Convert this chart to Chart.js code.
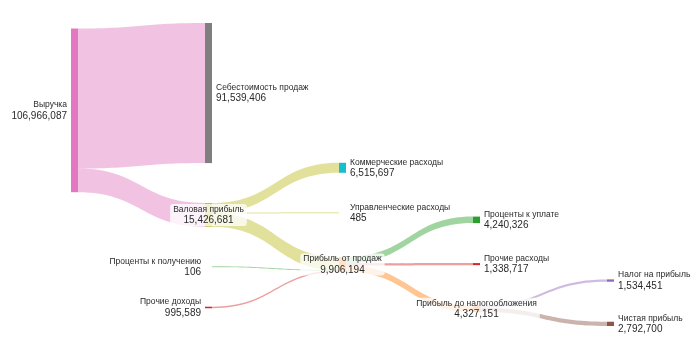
<!DOCTYPE html>
<html>
<head>
<meta charset="utf-8">
<script src="https://cdn.jsdelivr.net/npm/chart.js@4.4.1/dist/chart.umd.min.js"></script>
<style>
  html, body { margin: 0; padding: 0; background: #fff; }
  #wrap { width: 700px; height: 350px; }
</style>
</head>
<body>
<div id="wrap"><canvas id="sankey"></canvas></div>
<script>
// ── Данные: узлы и потоки ─────────────────────────────────
const nodeNames = [
  'Выручка', 'Себестоимость продаж', 'Валовая прибыль',
  'Коммерческие расходы', 'Управленческие расходы', 'Прибыль от продаж',
  'Проценты к получению', 'Прочие доходы',
  'Проценты к уплате', 'Прочие расходы', 'Прибыль до налогообложения',
  'Налог на прибыль', 'Чистая прибыль'
];
const linkFrom   = [0, 0, 2, 2, 2, 6, 7, 5, 5, 5, 10, 10];
const linkTo     = [1, 2, 3, 4, 5, 5, 5, 8, 9, 10, 11, 12];
const linkValues = [91539406, 15426681, 6515697, 485, 8910499, 106, 995589,
                    4240326, 1338717, 4327151, 1534451, 2792700];

// ── Цвета ─────────────────────────────────────────────────
const nodeColors = ['#e377c2', '#7f7f7f', '#bcbd22', '#17becf', '#1f77b4', '#ff7f0e',
                    '#2ca02c', '#d62728', '#2ca02c', '#d62728', '#ff7f0e', '#9467bd', '#8c564b'];
const linkColors = ['#e377c2', '#e377c2', '#bcbd22', '#bcbd22', '#bcbd22', '#2ca02c', '#d62728',
                    '#2ca02c', '#d62728', '#ff7f0e', '#9467bd', '#8c564b'];

const Y_MAX      = 198e6;   // диапазон оси Y в единицах значений
const NODE_W     = 7;       // ширина узла, px
const NODE_PAD   = 40;      // отступ между узлами, px
const ITERATIONS = 6;
const LINK_ALPHA = 0.45;
const FONT       = '"Liberation Sans", Arial, sans-serif';
const TEXT_COLOR = '#2a2a2a';

const sum = (arr, f) => arr.reduce((s, d) => s + f(d), 0);
const byBreadth = (a, b) => a.y0 - b.y0;

function rgba(hex, a) {
  const n = parseInt(hex.slice(1), 16);
  return `rgba(${n >> 16},${(n >> 8) & 255},${n & 255},${a})`;
}

// ── Раскладка (по мотивам d3-sankey: center, порядок узлов фиксирован) ──
function layoutSankey(py) {
  const nodes = nodeNames.map((name, i) => ({ index: i, name, sourceLinks: [], targetLinks: [] }));
  const links = linkValues.map((value, i) => ({
    index: i, value, width: value, source: nodes[linkFrom[i]], target: nodes[linkTo[i]]
  }));
  links.forEach(l => { l.source.sourceLinks.push(l); l.target.targetLinks.push(l); });
  nodes.forEach(n => { n.value = Math.max(sum(n.sourceLinks, l => l.value), sum(n.targetLinks, l => l.value)); });

  let current = new Set(nodes), depth = 0;
  while (current.size) {
    const next = new Set();
    for (const n of current) {
      n.depth = depth;
      n.sourceLinks.forEach(l => next.add(l.target));
    }
    depth++;
    current = next;
  }
  const nCols = depth;
  nodes.forEach(n => {
    const a = n.targetLinks.length ? n.depth
      : n.sourceLinks.length ? Math.min(...n.sourceLinks.map(l => l.target.depth)) - 1 : 0;
    n.layer = Math.max(0, Math.min(nCols - 1, Math.floor(a)));
  });
  const columns = [];
  nodes.forEach(n => (columns[n.layer] = columns[n.layer] || []).push(n));

  const y0 = 0, y1 = Y_MAX;
  const srcSort = (a, b) => byBreadth(a.source, b.source) || a.index - b.index;
  const tgtSort = (a, b) => byBreadth(a.target, b.target) || a.index - b.index;
  const reorderLinks = col => col.forEach(n => { n.sourceLinks.sort(tgtSort); n.targetLinks.sort(srcSort); });
  const reorderNodeLinks = n => {
    n.targetLinks.forEach(l => l.source.sourceLinks.sort(tgtSort));
    n.sourceLinks.forEach(l => l.target.targetLinks.sort(srcSort));
  };

  for (const col of columns) {
    let y = y0;
    for (const n of col) { n.y0 = y; n.y1 = y + n.value; y = n.y1 + py; }
    y = (y1 - y + py) / (col.length + 1);
    col.forEach((n, i) => { n.y0 += y * (i + 1); n.y1 += y * (i + 1); });
    reorderLinks(col);
  }

  function targetTop(source, target) {
    let y = source.y0 - (source.sourceLinks.length - 1) * py / 2;
    for (const l of source.sourceLinks) { if (l.target === target) break; y += l.width + py; }
    for (const l of target.targetLinks) { if (l.source === source) break; y -= l.width; }
    return y;
  }
  function sourceTop(source, target) {
    let y = target.y0 - (target.targetLinks.length - 1) * py / 2;
    for (const l of target.targetLinks) { if (l.source === source) break; y += l.width + py; }
    for (const l of source.sourceLinks) { if (l.target === target) break; y -= l.width; }
    return y;
  }
  function pushDown(col, y, i, alpha) {
    for (; i < col.length; ++i) {
      const n = col[i], dy = (y - n.y0) * alpha;
      if (dy > 1e-6) { n.y0 += dy; n.y1 += dy; }
      y = n.y1 + py;
    }
  }
  function pushUp(col, y, i, alpha) {
    for (; i >= 0; --i) {
      const n = col[i], dy = (n.y1 - y) * alpha;
      if (dy > 1e-6) { n.y0 -= dy; n.y1 -= dy; }
      y = n.y0 - py;
    }
  }
  function resolveCollisions(col, alpha) {
    const i = col.length >> 1, subject = col[i];
    pushUp(col, subject.y0 - py, i - 1, alpha);
    pushDown(col, subject.y1 + py, i + 1, alpha);
    pushUp(col, y1, col.length - 1, alpha);
    pushDown(col, y0, 0, alpha);
  }
  function relaxLeftToRight(alpha, beta) {
    for (let i = 1; i < columns.length; ++i) {
      const col = columns[i];
      for (const t of col) {
        let y = 0, w = 0;
        for (const l of t.targetLinks) {
          const v = l.value * (t.layer - l.source.layer);
          y += targetTop(l.source, t) * v; w += v;
        }
        if (!(w > 0)) continue;
        const dy = (y / w - t.y0) * alpha;
        t.y0 += dy; t.y1 += dy;
        reorderNodeLinks(t);
      }
      resolveCollisions(col, beta);
    }
  }
  function relaxRightToLeft(alpha, beta) {
    for (let i = columns.length - 2; i >= 0; --i) {
      const col = columns[i];
      for (const s of col) {
        let y = 0, w = 0;
        for (const l of s.sourceLinks) {
          const v = l.value * (l.target.layer - s.layer);
          y += sourceTop(s, l.target) * v; w += v;
        }
        if (!(w > 0)) continue;
        const dy = (y / w - s.y0) * alpha;
        s.y0 += dy; s.y1 += dy;
        reorderNodeLinks(s);
      }
      resolveCollisions(col, beta);
    }
  }
  for (let i = 0; i < ITERATIONS; ++i) {
    const alpha = Math.pow(0.99, i);
    const beta = Math.max(1 - alpha, (i + 1) / ITERATIONS);
    relaxRightToLeft(alpha, beta);
    relaxLeftToRight(alpha, beta);
  }

  nodes.forEach(n => {
    let a = n.y0, b = n.y0;
    n.sourceLinks.forEach(l => { l.y0 = a + l.width / 2; a += l.width; });
    n.targetLinks.forEach(l => { l.y1 = b + l.width / 2; b += l.width; });
  });
  return { nodes, links };
}

// ── Плагин отрисовки ──────────────────────────────────────
const sankeyPlugin = {
  id: 'sankeyDraw',
  afterDatasetsDraw(chart) {
    const { ctx, scales: { x, y } } = chart;
    const k = Math.abs(y.getPixelForValue(1e6) - y.getPixelForValue(0)) / 1e6;
    const { nodes, links } = layoutSankey(NODE_PAD / k);
    const px = n => x.getPixelForValue(n.layer);

    ctx.save();
    // потоки
    links.forEach(l => {
      const w = Math.max(l.width * k, 1);
      const sx = px(l.source) + NODE_W, tx = px(l.target);
      const sy = y.getPixelForValue(l.y0), ty = y.getPixelForValue(l.y1);
      const mx = (sx + tx) / 2;
      ctx.beginPath();
      ctx.moveTo(sx, sy - w / 2);
      ctx.bezierCurveTo(mx, sy - w / 2, mx, ty - w / 2, tx, ty - w / 2);
      ctx.lineTo(tx, ty + w / 2);
      ctx.bezierCurveTo(mx, ty + w / 2, mx, sy + w / 2, sx, sy + w / 2);
      ctx.closePath();
      ctx.fillStyle = rgba(linkColors[l.index], LINK_ALPHA);
      ctx.fill();
    });
    // узлы
    nodes.forEach(n => {
      const top = y.getPixelForValue(n.y0), bot = y.getPixelForValue(n.y1);
      ctx.fillStyle = nodeColors[n.index];
      ctx.fillRect(px(n), top, NODE_W, bot - top);
    });
    // подписи
    const nameFont = `8.5px ${FONT}`, valFont = `10px ${FONT}`;
    nodes.forEach(n => {
      const cy = (y.getPixelForValue(n.y0) + y.getPixelForValue(n.y1)) / 2;
      const valueText = n.value.toLocaleString('en-US');
      let tx, align;
      if (!n.targetLinks.length) { tx = px(n) - 4; align = 'right'; }
      else if (!n.sourceLinks.length) { tx = px(n) + NODE_W + 4; align = 'left'; }
      else {
        tx = px(n) + NODE_W / 2; align = 'center';
        ctx.font = nameFont;
        const w1 = ctx.measureText(n.name).width;
        ctx.font = valFont;
        const w2 = ctx.measureText(valueText).width;
        const bw = Math.max(w1, w2) + 6;
        ctx.fillStyle = 'rgba(255,255,255,0.78)';
        ctx.beginPath();
        ctx.roundRect(tx - bw / 2, cy - 11, bw, 22, 3);
        ctx.fill();
      }
      ctx.textAlign = align;
      ctx.textBaseline = 'middle';
      ctx.fillStyle = TEXT_COLOR;
      ctx.font = nameFont;
      ctx.fillText(n.name, tx, cy - 5.5);
      ctx.font = valFont;
      ctx.fillText(valueText, tx, cy + 5.5);
    });
    ctx.restore();
  }
};

new Chart(document.getElementById('sankey'), {
  type: 'scatter',
  data: { datasets: [] },
  options: {
    responsive: true,
    maintainAspectRatio: false,
    animation: false,
    events: [],
    layout: { padding: { left: 71, right: 93, top: 23, bottom: 24 } },
    plugins: { legend: { display: false }, tooltip: { enabled: false } },
    scales: {
      x: { type: 'linear', min: 0, max: 4, display: false },
      y: { type: 'linear', min: 0, max: Y_MAX, reverse: true, display: false }
    }
  },
  plugins: [sankeyPlugin]
});
</script>
</body>
</html>
